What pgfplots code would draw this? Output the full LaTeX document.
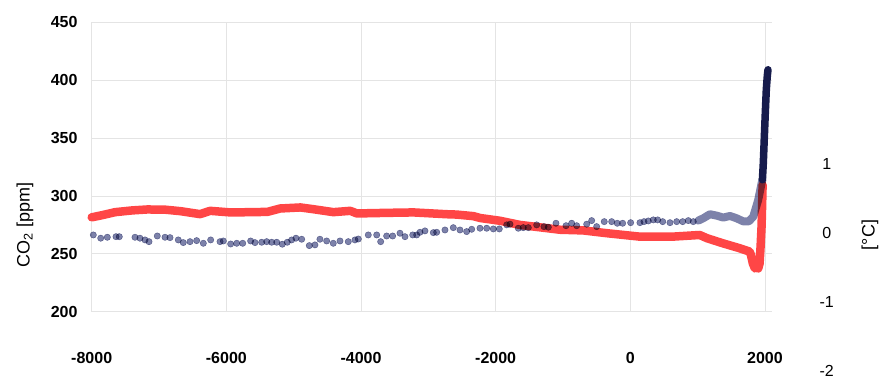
\documentclass[border=0pt]{standalone}
\usepackage{pgfplots}
\pgfplotsset{compat=1.18}
\usepackage{fontspec}
\setmainfont{Liberation Sans}
\definecolor{redT}{HTML}{FF4646}
\definecolor{dotC}{HTML}{7D82AA}
\definecolor{navyC}{HTML}{161B4C}
\definecolor{gridC}{HTML}{E4E4E4}
\begin{document}
\begin{tikzpicture}[x=1pt,y=1pt]
\path[use as bounding box] (0,0) rectangle (888,380);
% ---- axis A: grid and left / bottom tick labels
\begin{axis}[
  at={(91.7pt,357.7pt)}, anchor=north west,
  scale only axis, width=680pt, height=289.4pt,
  xmin=-8000, xmax=2100, ymin=200, ymax=450,
  xtick={-8000,-6000,-4000,-2000,0,2000},
  xticklabels={-8000,-6000,-4000,-2000,0,2000},
  ytick={200,250,300,350,400,450},
  yticklabels={200,250,300,350,400,450},
  grid=major, grid style={gridC, line width=0.7pt},
  axis line style={draw=none}, major tick length=0pt,
  tick label style={font=\fontsize{16}{18}\selectfont\bfseries},
  xticklabel style={anchor=center, yshift=-46pt},
  yticklabel style={anchor=east, inner sep=0pt, xshift=-14pt},
]
\end{axis}
% ---- axis B: temperature (right axis)
\begin{axis}[
  at={(91.7pt,357.7pt)}, anchor=north west,
  scale only axis, width=680pt, height=355.1pt,
  xmin=-8000, xmax=2100, ymin=-2.1, ymax=3.0464,
  axis x line=none, axis y line*=right,
  axis line style={draw=none}, major tick length=0pt,
  ytick={-2,-1,0,1}, yticklabels={-2,-1,0,1},
  yticklabel style={font=\fontsize{16}{18}\selectfont, anchor=center, xshift=55pt},
  clip=false,
]
\addplot[redT, line width=8.5pt, line cap=round, line join=round] table {
x y
-8000 0.22
-7850 0.25
-7650 0.295
-7400 0.32
-7170 0.334
-6900 0.33
-6680 0.309
-6390 0.266
-6240 0.314
-5940 0.291
-5600 0.295
-5390 0.299
-5200 0.348
-4900 0.363
-4710 0.338
-4410 0.295
-4160 0.314
-4060 0.276
-3600 0.285
-3220 0.291
-2730 0.265
-2580 0.26
-2330 0.237
-2230 0.21
-1936 0.17
-1640 0.11
-1045 0.04
-700 0.03
-350 -0.01
140 -0.06
630 -0.06
1030 -0.036
1140 -0.083
1370 -0.155
1620 -0.227
1770 -0.276
1790 -0.32
1820 -0.45
1850 -0.52
1880 -0.49
1900 -0.52
1920 -0.45
1935 -0.20
1950 0.10
1965 0.69
};
\end{axis}
% ---- axis C: CO2 series
\begin{axis}[
  at={(91.7pt,357.7pt)}, anchor=north west,
  scale only axis, width=680pt, height=289.4pt,
  xmin=-8000, xmax=2100, ymin=200, ymax=450,
  hide axis, clip=false,
]
\addplot[only marks, mark=*, mark size=3.2pt, color=dotC, mark options={draw=none, fill=dotC}, blend mode=multiply] table {
x y
-7976 266.3
-7866 263.5
-7768 264.3
-7639 264.8
-7590 264.8
-7357 264.3
-7283 263.5
-7208 262.0
-7149 260.5
-7026 265.4
-6911 264.3
-6837 264.0
-6714 262.0
-6640 259.7
-6540 260.5
-6441 261.4
-6342 259.1
-6233 262.0
-6094 260.5
-6045 261.1
-5936 258.5
-5846 259.1
-5757 259.1
-5639 261.1
-5575 259.7
-5475 260.0
-5401 260.5
-5327 260.0
-5252 260.0
-5169 258.3
-5095 260.0
-5030 262.0
-4966 263.5
-4881 262.6
-4768 257.1
-4684 257.7
-4610 262.6
-4510 261.1
-4412 259.1
-4312 261.1
-4189 260.5
-4090 262.0
-4040 262.8
-3892 266.3
-3767 266.3
-3708 260.5
-3619 265.4
-3530 265.4
-3421 267.8
-3347 264.8
-3232 266.3
-3173 266.3
-3124 268.6
-3050 269.8
-2926 268.3
-2876 268.6
-2753 270.6
-2629 272.6
-2530 270.6
-2431 269.2
-2356 271.2
-2233 272.1
-2133 272.1
-2035 271.5
-1946 271.5
-1836 275.0
-1787 275.6
-1664 272.1
-1590 272.6
-1515 272.6
-1391 275.0
-1282 273.5
-1218 273.0
-1104 276.4
-955 274.3
-871 276.4
-797 274.3
-648 275.6
-574 278.7
-500 273.5
-387 277.8
-277 277.8
-194 276.4
-114 276.4
5 276.9
143 276.9
203 277.8
267 278.4
341 279.3
406 279.3
481 277.8
589 276.9
689 277.8
778 277.8
861 278.7
935 277.8
};
\addplot[dotC, line width=8pt, line cap=round, line join=round, blend mode=multiply] table {
x y
1010 278.7
1083 280.7
1183 284.2
1282 283.0
1381 281.3
1480 282.7
1579 280.7
1678 278.0
1760 278.0
1826 282.1
1900 296.6
1950 311.0
1962 314.0
};
\addplot[navyC, line width=7.5pt, line cap=round, line join=round] table {
x y
1962 314
1975 328
1990 350
2005 372
2020 392
2035 404
2045 409
};
\end{axis}
\node[rotate=90, font=\fontsize{18}{20}\selectfont] at (25,155) {CO\textsubscript{2} [ppm]};
\node[rotate=90, font=\fontsize{18}{20}\selectfont] at (870,145) {[°C]};
\end{tikzpicture}
\end{document}
